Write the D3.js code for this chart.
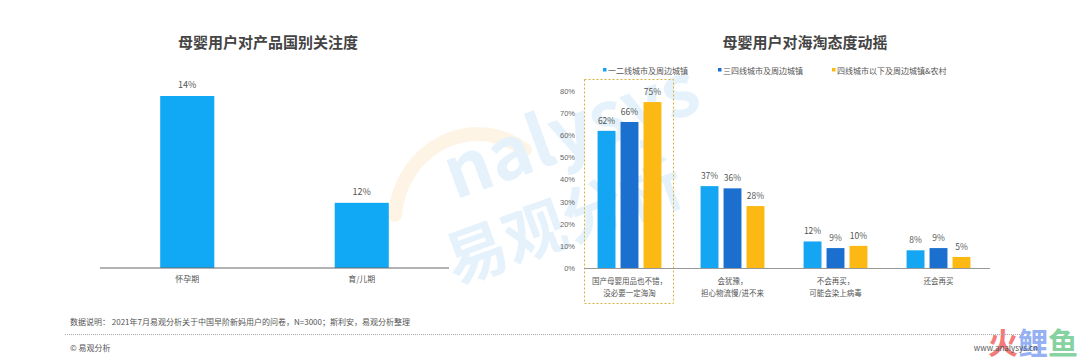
<!DOCTYPE html>
<html>
<head>
<meta charset="utf-8">
<script src="https://cdn.jsdelivr.net/npm/d3@7"></script>
<style>
  body { margin:0; background:#fff; }
  svg { display:block; font-family:"Noto Sans CJK SC","Noto Sans",sans-serif; }
</style>
</head>
<body>
<div id="chart"></div>
<script>
// left chart
var leftCats = ["怀孕期", "育/儿期"];
var leftVals = [14, 12];

// right chart
var rightCats = [["国产母婴用品也不错，", "没必要一定海淘"], ["会犹豫，", "担心物流慢/进不来"], ["不会再买，", "可能会染上病毒"], ["还会再买"]];
var seriesNames = ["一二线城市及周边城镇", "三四线城市及周边城镇", "四线城市以下及周边城镇&农村"];
var tierA = [62, 37, 12, 8];
var tierB = [66, 36, 9, 9];
var tierC = [75, 28, 10, 5];
var yTicks = [0, 10, 20, 30, 40, 50, 60, 70, 80];

var colors = ["#14a6f2", "#1b6fcf", "#fdb913"];

var svg = d3.select("#chart").append("svg").attr("width", 1080).attr("height", 360);

// watermark
var wm = svg.append("g").attr("opacity", 0.11);
wm.append("path")
  .attr("d", "M395,215 C400,150 470,110 525,150")
  .attr("fill", "none").attr("stroke", "#f5a623").attr("stroke-width", 14).attr("stroke-linecap", "round");
wm.append("text").attr("x", 455).attr("y", 200).attr("transform", "rotate(-20,455,200)")
  .attr("font-size", 72).attr("font-weight", "bold").attr("fill", "#1a8fe0").text("nalysys");
wm.append("text").attr("x", 455).attr("y", 285).attr("transform", "rotate(-20,455,285)")
  .attr("font-size", 62).attr("font-weight", "bold").attr("fill", "#1a8fe0").text("易观分析");

// ---------- left ----------
svg.append("text").attr("x", 268).attr("y", 48).attr("text-anchor", "middle")
  .attr("font-size", 15).attr("font-weight", "bold").attr("fill", "#444").text("母婴用户对产品国别关注度");

var lx = d3.scaleBand().domain(leftCats).range([100, 449]).paddingInner(0.69).paddingOuter(0.345);
var ly = d3.scaleLinear().domain([10.78, 14]).range([268, 96]);

var lg = svg.append("g");
lg.selectAll("rect").data(leftVals).enter().append("rect")
  .attr("x", function(d, i){ return lx(leftCats[i]); })
  .attr("y", function(d){ return ly(d); })
  .attr("width", lx.bandwidth())
  .attr("height", function(d){ return 268 - ly(d); })
  .attr("fill", "#11a9f6");
lg.selectAll("text.val").data(leftVals).enter().append("text").attr("class", "val")
  .attr("x", function(d, i){ return lx(leftCats[i]) + lx.bandwidth()/2; })
  .attr("y", function(d){ return ly(d) - 8; })
  .attr("text-anchor", "middle").attr("font-size", 9).attr("fill", "#555")
  .text(function(d){ return d + "%"; });

var lAxis = svg.append("g").attr("transform", "translate(0,268)")
  .call(d3.axisBottom(lx).tickSize(0).tickPadding(8));
lAxis.select(".domain").attr("stroke", "#666").attr("d", "M100,0H449");
lAxis.selectAll("text").attr("font-size", 8).attr("fill", "#555").attr("font-family", "Noto Sans CJK SC");

// ---------- right ----------
svg.append("text").attr("x", 805).attr("y", 48).attr("text-anchor", "middle")
  .attr("font-size", 15).attr("font-weight", "bold").attr("fill", "#444").text("母婴用户对海淘态度动摇");

var x0 = d3.scaleBand().domain(d3.range(rightCats.length)).range([578, 990]).paddingInner(0.38).paddingOuter(0.19);
var x1 = d3.scaleBand().domain(d3.range(3)).range([0, x0.bandwidth()]).paddingInner(0.22);
var y = d3.scaleLinear().domain([0, 80]).range([268, 91]);

// highlight box
svg.append("rect").attr("x", 584.5).attr("y", 79.5).attr("width", 89).attr("height", 224)
  .attr("fill", "none").attr("stroke", "#d9b23a").attr("stroke-width", 1).attr("stroke-dasharray", "2,2");

var yAxis = svg.append("g").attr("transform", "translate(575,0)")
  .call(d3.axisLeft(y).tickValues(yTicks).tickSize(0).tickPadding(0).tickFormat(function(d){ return d + "%"; }));
yAxis.select(".domain").remove();
yAxis.selectAll("text").attr("font-size", 7.5).attr("fill", "#666");

var series = [tierA, tierB, tierC];
series.forEach(function(vals, s){
  var g = svg.append("g");
  g.selectAll("rect").data(vals).enter().append("rect")
    .attr("x", function(d, i){ return x0(i) + x1(s); })
    .attr("y", function(d){ return y(d); })
    .attr("width", x1.bandwidth())
    .attr("height", function(d){ return 268 - y(d); })
    .attr("fill", colors[s]);
  g.selectAll("text").data(vals).enter().append("text")
    .attr("x", function(d, i){ return x0(i) + x1(s) + x1.bandwidth()/2; })
    .attr("y", function(d){ return y(d) - 7; })
    .attr("text-anchor", "middle").attr("font-size", 8.5).attr("fill", "#555")
    .text(function(d){ return d + "%"; });
});

svg.append("line").attr("x1", 584).attr("x2", 990).attr("y1", 268.5).attr("y2", 268.5)
  .attr("stroke", "#999").attr("stroke-width", 1);

var cl = svg.append("g");
rightCats.forEach(function(lines, i){
  var t = cl.append("text").attr("text-anchor", "middle").attr("font-size", 7.5).attr("fill", "#555")
    .attr("x", x0(i) + x0.bandwidth()/2).attr("y", 284);
  lines.forEach(function(l, k){
    t.append("tspan").attr("x", x0(i) + x0.bandwidth()/2).attr("dy", k === 0 ? 0 : 11.5).text(l);
  });
});

// legend
var legX = [603, 718, 832];
var leg = svg.append("g");
seriesNames.forEach(function(n, i){
  leg.append("rect").attr("x", legX[i]).attr("y", 68).attr("width", 3.5).attr("height", 3.5).attr("fill", colors[i]);
  leg.append("text").attr("x", legX[i] + 5).attr("y", 73.5).attr("font-size", 8).attr("fill", "#555").text(n);
});

// corner logo (drawn under the footer text)
var logo = svg.append("g").attr("font-size", 30).attr("font-weight", "bold");
logo.append("text").attr("x", 988).attr("y", 354).attr("fill", "#f25a5a").attr("opacity", 0.8).text("火");
logo.append("text").attr("x", 1018).attr("y", 354).attr("fill", "#6a8ff0").attr("opacity", 0.7).text("鲤");
logo.append("text").attr("x", 1048).attr("y", 354).attr("fill", "#55c07a").attr("opacity", 0.7).text("鱼");

// footer
svg.append("text").attr("x", 70).attr("y", 325).attr("font-size", 8).attr("fill", "#555")
  .text("数据说明：  2021年7月易观分析关于中国早阶新妈用户的问卷，N=3000；斯利安，易观分析整理");
svg.append("line").attr("x1", 65).attr("x2", 1025).attr("y1", 334.5).attr("y2", 334.5)
  .attr("stroke", "#aaa").attr("stroke-dasharray", "1,1");
svg.append("text").attr("x", 70).attr("y", 351).attr("font-size", 8).attr("fill", "#555").text("© 易观分析");
svg.append("text").attr("x", 1038).attr("y", 351).attr("text-anchor", "end").attr("font-size", 8).attr("fill", "#555").text("www.analysys.cn");
</script>
</body>
</html>
